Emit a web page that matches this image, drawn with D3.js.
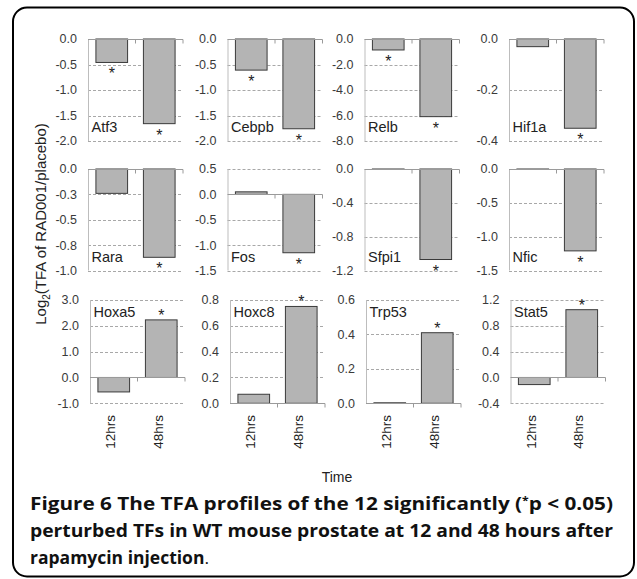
<!DOCTYPE html>
<html>
<head>
<meta charset="utf-8">
<script src="https://cdn.jsdelivr.net/npm/d3@7"></script>
<style>
  body { margin: 0; background: #fff; }
  text { font-family: Arial, "Liberation Sans", sans-serif; }
  .caption { font-family: "Open Sans", sans-serif; font-weight: bold; fill: #111; }
</style>
</head>
<body>
<svg id="chart" width="637" height="579"></svg>
<script>
// values
let genes = ['Atf3','Cebpb','Relb','Hif1a','Rara','Fos','Sfpi1','Nfic','Hoxa5','Hoxc8','Trp53','Stat5'];
let times = ['12hrs','48hrs'];
let tfa12 = [-0.46,-0.61,-0.86,-0.03,-0.24,0.05,-0.004,-0.005,-0.56,0.07,0.003,-0.11];
let tfa48 = [-1.66,-1.76,-6.09,-0.35,-0.87,-1.15,-1.07,-1.21,2.23,0.75,0.41,1.05];
let sig12 = [true,true,true,false,false,false,false,false,false,false,false,false];
let sig48 = [true,true,true,true,true,true,true,true,true,true,true,true];
let yMin = [-2,-2,-8,-0.4,-1,-1.5,-1.2,-1.5,-1,0,0,-0.4];
let yMax = [0,0,0,0,0,0.5,0,0,3,0.8,0.6,1.2];
let yStep = [0.5,0.5,2,0.2,0.25,0.5,0.4,0.5,1,0.2,0.2,0.4];

let svg = d3.select('#chart');

// outer frame
svg.append('rect')
  .attr('x', 13).attr('y', 7.5)
  .attr('width', 621).attr('height', 569)
  .attr('rx', 14)
  .attr('fill', 'none')
  .attr('stroke', '#000')
  .attr('stroke-width', 2);

// panel layout
let colLeft = [[88, 227.5, 364.5, 509], [88, 227.5, 364.5, 509], [90, 230, 366, 510.5]];
let rowTop = [39, 169, 300];
let rowH = [102, 101.5, 103.3];
let pw = 95;

let xb = d3.scaleBand()
  .domain(times)
  .range([0, pw])
  .paddingInner(1/3)
  .paddingOuter(1/6);

genes.forEach(function(g, i){
  let row = Math.floor(i/4), col = i%4;
  let left = colLeft[row][col];
  let top = rowTop[row], h = rowH[row];
  let panel = svg.append('g').attr('transform', `translate(${left},0)`);

  let y = d3.scaleLinear()
    .domain([yMin[i], yMax[i]])
    .range([top+h, top]);

  let n = Math.round((yMax[i]-yMin[i])/yStep[i]);
  let ticks = d3.range(n+1).map(k => +(yMin[i] + k*yStep[i]).toFixed(4));

  // gridlines
  panel.selectAll('.grid')
    .data(ticks.filter(t => t != 0))
    .enter()
    .append('line')
    .attr('x1', 0).attr('x2', pw)
    .attr('y1', d => Math.round(y(d))+0.5)
    .attr('y2', d => Math.round(y(d))+0.5)
    .attr('stroke', '#a8a8a8')
    .attr('stroke-dasharray', '3,2');

  // left axis line
  panel.append('line')
    .attr('x1', 0.5).attr('x2', 0.5)
    .attr('y1', top).attr('y2', top+h)
    .attr('stroke', '#bdbdbd');

  // tick labels
  panel.selectAll('.tl')
    .data(ticks)
    .enter()
    .append('text')
    .attr('x', -11)
    .attr('y', d => y(d))
    .attr('dy', '0.35em')
    .attr('text-anchor', 'end')
    .attr('font-size', '12.5px')
    .attr('fill', '#3a3a3a')
    .text(d => d.toFixed(1));

  // bars
  let vals = [tfa12[i], tfa48[i]];
  let sig = [sig12[i], sig48[i]];
  panel.selectAll('.bar')
    .data(vals)
    .enter()
    .append('rect')
    .attr('x', (d,k) => xb(times[k]))
    .attr('y', d => Math.min(y(d), y(0)))
    .attr('width', xb.bandwidth())
    .attr('height', d => Math.abs(y(d)-y(0)))
    .attr('fill', '#b4b4b4')
    .attr('stroke', '#3a3a3a')
    .attr('stroke-width', 1);

  // category axis at zero
  let y0 = Math.round(y(0))+0.5;
  panel.append('line')
    .attr('x1', 0).attr('x2', pw)
    .attr('y1', y0).attr('y2', y0)
    .attr('stroke', '#9a9a9a');
  panel.selectAll('.ct')
    .data([xb.step(), pw])
    .enter()
    .append('line')
    .attr('x1', d => d).attr('x2', d => d)
    .attr('y1', y0).attr('y2', y0+4)
    .attr('stroke', '#9a9a9a');

  // significance marks
  panel.selectAll('.star')
    .data(vals.map((v,k) => ({v:v, k:k})).filter(d => sig[d.k]))
    .enter()
    .append('text')
    .attr('x', d => xb(times[d.k]) + xb.bandwidth()/2)
    .attr('y', d => d.v < 0 ? y(d.v)+17 : y(d.v)+1)
    .attr('text-anchor', 'middle')
    .attr('font-size', '16px')
    .attr('fill', '#222')
    .text('*');

  // gene name
  panel.append('text')
    .attr('x', 3.5)
    .attr('y', row < 2 ? top+93 : top+17)
    .attr('font-size', '14.5px')
    .attr('fill', '#222')
    .text(g);

  // time labels on bottom row
  if(row == 2){
    panel.selectAll('.xl')
      .data(times)
      .enter()
      .append('text')
      .attr('transform', d => `translate(${xb(d)+xb.bandwidth()/2-3},415) rotate(-90)`)
      .attr('dy', '0.35em')
      .attr('text-anchor', 'end')
      .attr('font-size', '13.5px')
      .attr('fill', '#222')
      .text(d => d);
  }
});

// axis titles
let yt = svg.append('text')
  .attr('transform', 'translate(46,224) rotate(-90)')
  .attr('text-anchor', 'middle')
  .attr('font-size', '15px')
  .attr('fill', '#222');
yt.append('tspan').text('Log');
yt.append('tspan').attr('font-size', '10px').attr('dy', 4).text('2');
yt.append('tspan').attr('dy', -4).text('(TFA of RAD001/placebo)');

svg.append('text')
  .attr('x', 337).attr('y', 482)
  .attr('text-anchor', 'middle')
  .attr('font-size', '14px')
  .attr('fill', '#222')
  .text('Time');

// caption
let c1 = svg.append('text')
  .attr('class', 'caption')
  .attr('x', 30).attr('y', 510)
  .attr('font-size', '17px')
  .attr('textLength', 583)
  .attr('lengthAdjust', 'spacingAndGlyphs');
c1.append('tspan').text('Figure 6 The TFA profiles of the 12 significantly (');
c1.append('tspan').attr('font-size', '10px').attr('dy', -6).text('*');
c1.append('tspan').attr('dy', 6).text('p < 0.05)');

svg.append('text')
  .attr('class', 'caption')
  .attr('x', 30).attr('y', 537)
  .attr('font-size', '17px')
  .attr('textLength', 583)
  .attr('lengthAdjust', 'spacingAndGlyphs')
  .text('perturbed TFs in WT mouse prostate at 12 and 48 hours after');

let c3 = svg.append('text')
  .attr('class', 'caption')
  .attr('x', 30).attr('y', 564)
  .attr('font-size', '17px')
  .attr('textLength', 179)
  .attr('lengthAdjust', 'spacingAndGlyphs');
c3.append('tspan').text('rapamycin injection');
c3.append('tspan').attr('font-weight', 'normal').text('.');
</script>
</body>
</html>
